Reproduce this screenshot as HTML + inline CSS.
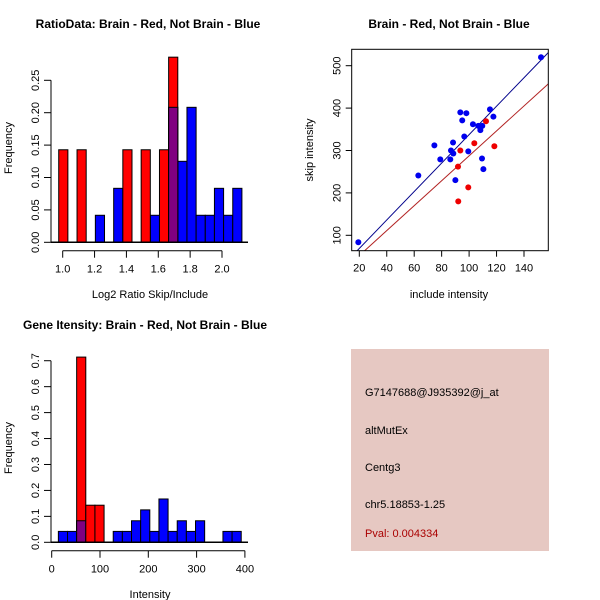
<!DOCTYPE html>
<html><head><meta charset="utf-8"><style>
body{margin:0;background:#fff;}
svg{display:block;font-family:"Liberation Sans",sans-serif;}
</style></head><body>
<svg id="s" width="600" height="600" xmlns="http://www.w3.org/2000/svg">
<g id="p1"></g>
<g id="p2"></g>
<g id="p3"></g>
<g>
<rect x="351" y="349" width="198" height="202" fill="#e6c8c2"/>
<g font-size="11" fill="#000">
<text x="365" y="396">G7147688@J935392@j_at</text>
<text x="365" y="434">altMutEx</text>
<text x="365" y="471">Centg3</text>
<text x="365" y="508">chr5.18853-1.25</text>
<text x="365" y="537" fill="#aa0000">Pval: 0.004334</text>
</g></g>
</svg>
<script>
// Ratio histogram data
const ratioRedBins=[0,2,7,9,11,12];
const ratioRedVals=[0.1428,0.1428,0.1428,0.1428,0.1428,0.2857];
const ratioBlueBins=[4,6,10,12,13,14,15,16,17,18,19];
const ratioBlueVals=[0.0417,0.0833,0.0417,0.2083,0.125,0.2083,0.0417,0.0417,0.0833,0.0417,0.0833];
const ratioYTicks=["0.00","0.05","0.10","0.15","0.20","0.25"];
const ratioXTicks=["1.0","1.2","1.4","1.6","1.8","2.0"];
// Scatter data
const blueX=[19.3,63,74.7,79,88.3,86.8,86.3,88.5,90,93.6,95,96.5,98,99.4,102.8,106.7,108.2,109.6,109.4,110.4,115.2,117.7,152.4];
const blueY=[83.5,241,312,279,319,300,279,293,230,390,371,333,388,298,362,358,348,358,281,256,397,380,520];
const redX=[91.9,93.6,92.1,99.4,103.8,112.3,118.4];
const redY=[262,300,180,213,317,369,310];
const blueFit=[1.9,3.355];
const redFit=[-6.6,2.94];
const scatXTicks=[20,40,60,80,100,120,140];
const scatYTicks=[100,200,300,400,500];
// Intensity histogram data
const intRedBins=[2,3,4];
const intRedVals=[0.714,0.143,0.143];
const intBlueBins=[0,1,2,6,7,8,9,10,11,12,13,14,15,18,19];
const intBlueVals=[0.042,0.042,0.083,0.042,0.042,0.083,0.125,0.042,0.167,0.042,0.083,0.042,0.083,0.042,0.042];
const intYTicks=["0.0","0.1","0.2","0.3","0.4","0.5","0.6","0.7"];
const intXTicks=[0,100,200,300,400];

const NS="http://www.w3.org/2000/svg";
function mk(parent,tag,attrs,txt){const e=document.createElementNS(NS,tag);for(const k in attrs)e.setAttribute(k,attrs[k]);if(txt!==undefined)e.textContent=txt;parent.appendChild(e);return e;}

function hist(g,o){
  const X=v=>o.x0+(v-o.xv0)*o.xs, Y=v=>o.y0-v*o.ys;
  const bx=k=>X(o.bstart+k*o.bw);
  o.blueBins.forEach((k,i)=>{
    const r=mk(g,'rect',{x:bx(k),y:Y(o.blueVals[i]),width:bx(k+1)-bx(k),height:o.y0-Y(o.blueVals[i]),fill:'#0000ff',stroke:'#000','stroke-width':1});
    
    
  });
  o.redBins.forEach((k,i)=>{
    const r=mk(g,'rect',{x:bx(k),y:Y(o.redVals[i]),width:bx(k+1)-bx(k),height:o.y0-Y(o.redVals[i]),fill:'#ff0000',stroke:'#000','stroke-width':1});
    
    
    const j=o.blueBins.indexOf(k);
    if(j>=0){const m=Math.min(o.blueVals[j],o.redVals[i]);
      const p=mk(g,'rect',{x:bx(k),y:Y(m),width:bx(k+1)-bx(k),height:o.y0-Y(m),fill:'#800080',stroke:'#000','stroke-width':1});
      
      }
  });
  mk(g,'line',{x1:o.ax,y1:o.y0,x2:o.xend,y2:o.y0,stroke:'#000','stroke-width':1.5});
  const ya=mk(g,'g',{});
  
  
  mk(ya,'line',{x1:o.ax,y1:Y(0),x2:o.ax,y2:Y(o.ymaxTick),stroke:'#000'});
  o.yTicks.forEach(t=>{const y=Y(parseFloat(t));mk(ya,'line',{x1:o.ax-7,y1:y,x2:o.ax,y2:y,stroke:'#000'});
    mk(ya,'text',{x:o.ax-12,y:y,transform:`rotate(-90 ${o.ax-12} ${y})`,'text-anchor':'middle','font-size':11},t);});
  const xa=mk(g,'g',{});
  
  
  const f=o.xTicks.map(t=>X(parseFloat(t)));
  mk(xa,'line',{x1:f[0],y1:o.xay,x2:f[f.length-1],y2:o.xay,stroke:'#000'});
  o.xTicks.forEach((t,i)=>{mk(xa,'line',{x1:f[i],y1:o.xay,x2:f[i],y2:o.xay+7,stroke:'#000'});
    mk(xa,'text',{x:f[i],y:o.xay+22,'text-anchor':'middle','font-size':11},t);});
  const tt=mk(g,'text',{x:o.tx,y:o.ty,'text-anchor':'middle','font-size':12,'font-weight':'bold'},o.title);
  
  
  const xl=mk(g,'text',{x:150,y:o.xly,'text-anchor':'middle','font-size':11},o.xlab);
  
  
  const yl=mk(g,'text',{x:12,y:o.yly,transform:`rotate(-90 12 ${o.yly})`,'text-anchor':'middle','font-size':11},'Frequency');
  
  
}

hist(document.getElementById('p1'),{x0:62.7,xv0:1.0,xs:159.3,y0:242.3,ys:648,bstart:0.975,bw:0.0575,
  redBins:ratioRedBins,redVals:ratioRedVals,blueBins:ratioBlueBins,blueVals:ratioBlueVals,
  ax:51,xend:248,ymaxTick:0.25,yTicks:ratioYTicks,xTicks:ratioXTicks,xay:250.7,
  tx:148,ty:28,title:'RatioData: Brain - Red, Not Brain - Blue',xly:298,xlab:'Log2 Ratio Skip/Include',yly:148});

hist(document.getElementById('p3'),{x0:51.7,xv0:0,xs:0.483,y0:542.3,ys:259.4,bstart:13.8,bw:18.93,
  redBins:intRedBins,redVals:intRedVals,blueBins:intBlueBins,blueVals:intBlueVals,
  ax:51,xend:248,ymaxTick:0.7,yTicks:intYTicks,xTicks:intXTicks,xay:550.7,
  tx:145,ty:329,title:'Gene Itensity: Brain - Red, Not Brain - Blue',xly:598,xlab:'Intensity',yly:448});

(function(){
  const g=document.getElementById('p2');
  const L=351.7,R=548.3,T=49.3,B=250.7;
  const X=v=>359.3+(v-20)*1.3725, Y=v=>235.3-(v-100)*0.424;
  const cp=mk(g,'clipPath',{id:'cp'});
  mk(cp,'rect',{x:L,y:T,width:R-L,height:B-T});
  const fit=(f,c,n)=>{const x1=15,x2=165;const l=mk(g,'line',{x1:X(x1),y1:Y(f[0]+f[1]*x1),x2:X(x2),y2:Y(f[0]+f[1]*x2),stroke:c,'clip-path':'url(#cp)'});
    
    };
  fit(blueFit,'#00008b','blue-fit-line');
  fit(redFit,'#b22222','red-fit-line');
  blueX.forEach((v,i)=>{const c=mk(g,'circle',{cx:X(v),cy:Y(blueY[i]),r:3,fill:'#0000ee'});
    
    });
  redX.forEach((v,i)=>{const c=mk(g,'circle',{cx:X(v),cy:Y(redY[i]),r:3,fill:'#ee0000'});
    
    });
  mk(g,'rect',{x:L,y:T,width:R-L,height:B-T,fill:'none',stroke:'#000'});
  const xa=mk(g,'g',{});
  
  
  scatXTicks.forEach(t=>{mk(xa,'line',{x1:X(t),y1:B,x2:X(t),y2:B+6,stroke:'#000'});mk(xa,'text',{x:X(t),y:B+21,'text-anchor':'middle','font-size':11},t);});
  const ya=mk(g,'g',{});
  
  
  scatYTicks.forEach(t=>{const y=Y(t);mk(ya,'line',{x1:L-6,y1:y,x2:L,y2:y,stroke:'#000'});mk(ya,'text',{x:L-11,y:y,transform:`rotate(-90 ${L-11} ${y})`,'text-anchor':'middle','font-size':11},t);});
  const tt=mk(g,'text',{x:449,y:28,'text-anchor':'middle','font-size':12,'font-weight':'bold'},'Brain - Red, Not Brain - Blue');
  
  
  const xl=mk(g,'text',{x:449,y:298,'text-anchor':'middle','font-size':11},'include intensity');
  
  
  const yl=mk(g,'text',{x:313,y:150,transform:'rotate(-90 313 150)','text-anchor':'middle','font-size':11},'skip intensity');
  
  
})();
</script>
</body></html>
